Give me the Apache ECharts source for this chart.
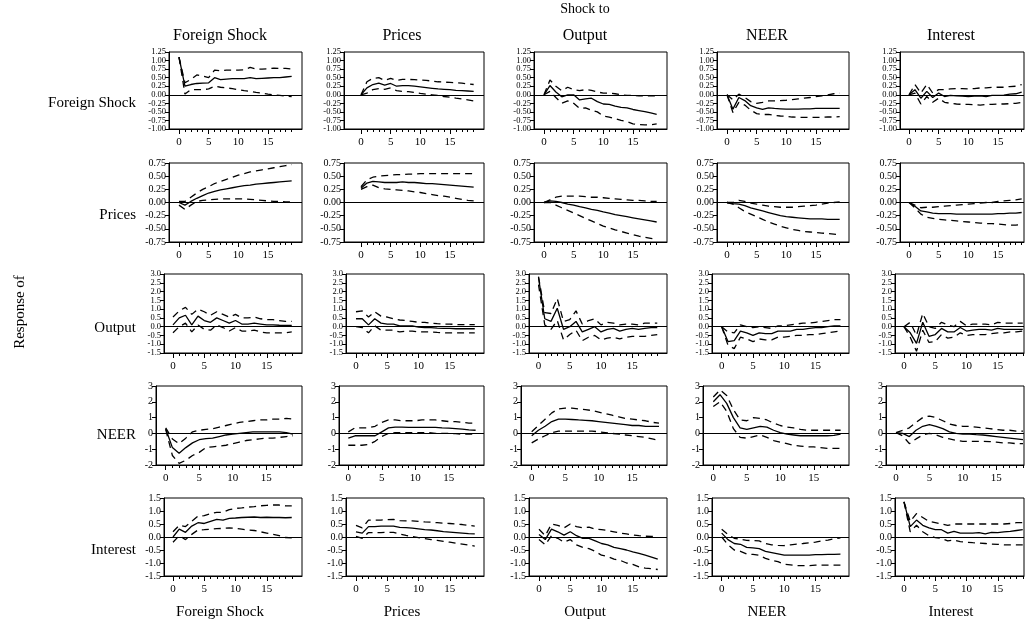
<!DOCTYPE html>
<html><head><meta charset="utf-8">
<script src="https://cdn.jsdelivr.net/npm/echarts@6/dist/echarts.min.js"></script>
<style>html,body{margin:0;padding:0;background:#fff}#c{width:1032px;height:626px}</style>
</head><body><div id="c"></div>
<script>
// ---- labels ----
const variables = ['Foreign Shock', 'Prices', 'Output', 'NEER', 'Interest'];
const periods = [0,1,2,3,4,5,6,7,8,9,10,11,12,13,14,15,16,17,18,19];
const xTickLabels = [0, 5, 10, 15];
// y axis scales per response row: [min, max, step, decimals]
const yScaleFS = [-1.0, 1.25, 0.25, 2];
const yScalePR = [-0.75, 0.75, 0.25, 2];
const yScaleOUT = [-1.5, 3.0, 0.5, 1];
const yScaleNEER = [-2, 3, 1, 0];
const yScaleINT = [-1.5, 1.5, 0.5, 1];

// ---- Response of Foreign Shock ----
const fs_fs_c = [1.10,0.25,0.30,0.33,0.34,0.35,0.50,0.44,0.46,0.47,0.47,0.47,0.50,0.47,0.48,0.49,0.50,0.50,0.52,0.54];
const fs_fs_u = [1.10,0.35,0.45,0.58,0.55,0.50,0.72,0.70,0.72,0.72,0.72,0.73,0.80,0.75,0.75,0.76,0.78,0.77,0.77,0.75];
const fs_fs_l = [1.10,0.02,0.15,0.15,0.15,0.17,0.25,0.22,0.20,0.18,0.15,0.12,0.10,0.07,0.05,0.02,0.00,-0.02,-0.04,-0.05];
const pr_fs_c = [0.00,0.20,0.30,0.34,0.28,0.33,0.25,0.27,0.27,0.25,0.23,0.21,0.19,0.17,0.16,0.15,0.13,0.12,0.11,0.10];
const pr_fs_u = [0.00,0.38,0.48,0.50,0.42,0.48,0.42,0.45,0.45,0.44,0.43,0.42,0.40,0.38,0.37,0.36,0.35,0.34,0.32,0.30];
const pr_fs_l = [0.00,0.05,0.15,0.18,0.16,0.20,0.12,0.10,0.09,0.07,0.04,0.02,0.00,-0.02,-0.05,-0.07,-0.10,-0.12,-0.15,-0.18];
const out_fs_c = [0.00,0.27,0.08,-0.06,0.00,0.00,-0.15,-0.12,-0.10,-0.20,-0.27,-0.28,-0.33,-0.37,-0.38,-0.43,-0.46,-0.49,-0.53,-0.57];
const out_fs_u = [0.00,0.43,0.25,0.12,0.22,0.15,0.12,0.15,0.13,0.08,0.05,0.05,0.03,0.00,-0.02,-0.02,-0.03,-0.03,-0.03,-0.03];
const out_fs_l = [0.00,0.10,-0.08,-0.25,-0.18,-0.25,-0.40,-0.38,-0.45,-0.50,-0.62,-0.65,-0.70,-0.75,-0.78,-0.85,-0.87,-0.88,-0.88,-0.85];
const neer_fs_c = [0.00,-0.42,-0.08,-0.17,-0.32,-0.38,-0.43,-0.38,-0.40,-0.41,-0.42,-0.42,-0.42,-0.41,-0.41,-0.40,-0.40,-0.40,-0.40,-0.40];
const neer_fs_u = [0.00,-0.15,0.02,-0.08,-0.20,-0.25,-0.22,-0.18,-0.18,-0.17,-0.16,-0.14,-0.12,-0.10,-0.08,-0.05,-0.03,0.00,0.03,0.05];
const neer_fs_l = [0.00,-0.52,-0.22,-0.30,-0.45,-0.55,-0.58,-0.57,-0.60,-0.62,-0.63,-0.65,-0.66,-0.66,-0.66,-0.66,-0.66,-0.65,-0.65,-0.64];
const int_fs_c = [0.00,0.15,-0.10,0.10,-0.08,0.05,-0.05,-0.02,-0.03,-0.04,-0.05,-0.04,-0.03,-0.05,-0.02,-0.02,-0.01,0.02,0.03,0.08];
const int_fs_u = [0.00,0.30,0.05,0.30,0.05,0.15,0.15,0.17,0.18,0.18,0.17,0.18,0.20,0.20,0.22,0.22,0.22,0.24,0.25,0.30];
const int_fs_l = [0.00,0.05,-0.27,-0.05,-0.22,-0.10,-0.22,-0.25,-0.27,-0.28,-0.28,-0.29,-0.30,-0.28,-0.28,-0.27,-0.27,-0.26,-0.25,-0.22];

// ---- Response of Prices ----
const fs_pr_c = [0.00,-0.05,0.02,0.08,0.13,0.18,0.21,0.24,0.26,0.28,0.30,0.32,0.33,0.35,0.36,0.37,0.38,0.39,0.40,0.41];
const fs_pr_u = [0.02,0.02,0.10,0.18,0.25,0.30,0.36,0.40,0.44,0.48,0.52,0.55,0.58,0.60,0.62,0.64,0.66,0.68,0.70,0.72];
const fs_pr_l = [-0.05,-0.13,-0.05,0.02,0.04,0.05,0.06,0.07,0.07,0.07,0.07,0.07,0.06,0.05,0.04,0.03,0.02,0.02,0.01,0.01];
const pr_pr_c = [0.27,0.37,0.40,0.39,0.38,0.38,0.38,0.39,0.38,0.38,0.37,0.36,0.36,0.35,0.34,0.33,0.32,0.31,0.30,0.29];
const pr_pr_u = [0.30,0.43,0.48,0.50,0.51,0.52,0.53,0.53,0.54,0.54,0.55,0.55,0.55,0.55,0.55,0.55,0.55,0.55,0.55,0.55];
const pr_pr_l = [0.25,0.30,0.33,0.28,0.26,0.25,0.24,0.23,0.22,0.20,0.19,0.17,0.15,0.13,0.12,0.10,0.08,0.06,0.04,0.03];
const out_pr_c = [0.00,0.03,0.02,0.00,-0.03,-0.05,-0.08,-0.10,-0.13,-0.15,-0.18,-0.20,-0.23,-0.25,-0.27,-0.29,-0.31,-0.33,-0.35,-0.37];
const out_pr_u = [0.00,0.05,0.10,0.12,0.12,0.12,0.12,0.11,0.10,0.10,0.09,0.08,0.07,0.06,0.05,0.04,0.04,0.03,0.02,0.02];
const out_pr_l = [0.00,0.00,-0.05,-0.10,-0.15,-0.20,-0.25,-0.30,-0.35,-0.40,-0.45,-0.48,-0.52,-0.55,-0.58,-0.61,-0.64,-0.66,-0.68,-0.70];
const neer_pr_c = [0.00,-0.02,-0.03,-0.06,-0.10,-0.13,-0.16,-0.19,-0.22,-0.25,-0.27,-0.28,-0.29,-0.30,-0.31,-0.31,-0.31,-0.32,-0.32,-0.32];
const neer_pr_u = [0.00,0.00,0.04,0.02,-0.01,-0.03,-0.05,-0.07,-0.08,-0.09,-0.09,-0.09,-0.08,-0.07,-0.06,-0.05,-0.03,-0.01,0.00,0.01];
const neer_pr_l = [0.00,-0.03,-0.10,-0.17,-0.22,-0.27,-0.32,-0.37,-0.41,-0.45,-0.48,-0.51,-0.53,-0.55,-0.56,-0.57,-0.58,-0.59,-0.60,-0.61];
const int_pr_c = [0.00,-0.07,-0.16,-0.18,-0.20,-0.21,-0.21,-0.21,-0.22,-0.22,-0.22,-0.22,-0.22,-0.22,-0.22,-0.21,-0.21,-0.20,-0.20,-0.19];
const int_pr_u = [0.00,-0.05,-0.10,-0.09,-0.09,-0.08,-0.07,-0.06,-0.05,-0.04,-0.03,-0.02,-0.01,0.00,0.00,0.02,0.03,0.04,0.05,0.07];
const int_pr_l = [0.00,-0.10,-0.22,-0.28,-0.30,-0.32,-0.33,-0.34,-0.35,-0.36,-0.37,-0.38,-0.39,-0.40,-0.40,-0.41,-0.42,-0.43,-0.43,-0.42];

// ---- Response of Output ----
const fs_out_c = [0.10,0.50,0.65,0.10,0.60,0.35,0.25,0.50,0.35,0.20,0.35,0.15,0.15,0.20,0.15,0.10,0.10,0.08,0.07,0.07];
const fs_out_u = [0.55,0.90,1.10,0.70,1.00,0.85,0.65,0.85,0.70,0.55,0.70,0.50,0.50,0.55,0.45,0.40,0.40,0.35,0.30,0.30];
const fs_out_l = [-0.35,0.00,0.20,-0.30,0.10,-0.15,-0.20,0.10,-0.05,-0.25,-0.05,-0.25,-0.25,-0.20,-0.30,-0.35,-0.35,-0.35,-0.35,-0.30];
const pr_out_c = [0.45,0.45,0.10,0.45,0.20,0.15,0.15,0.05,0.05,0.05,-0.03,-0.05,-0.05,-0.08,-0.10,-0.10,-0.12,-0.12,-0.12,-0.12];
const pr_out_u = [0.85,0.90,0.55,0.85,0.60,0.55,0.45,0.38,0.35,0.30,0.25,0.25,0.20,0.17,0.15,0.15,0.12,0.12,0.12,0.12];
const pr_out_l = [0.00,-0.05,-0.35,0.05,-0.20,-0.20,-0.20,-0.30,-0.25,-0.25,-0.30,-0.30,-0.30,-0.33,-0.35,-0.35,-0.35,-0.35,-0.35,-0.35];
const out_out_c = [2.80,0.45,0.30,1.05,-0.15,0.00,0.30,-0.30,-0.15,0.00,-0.30,-0.15,-0.10,-0.25,-0.15,-0.10,-0.15,-0.10,-0.05,-0.05];
const out_out_u = [2.85,0.80,0.75,1.60,0.30,0.40,0.90,0.15,0.35,0.45,0.10,0.25,0.20,0.10,0.15,0.15,0.10,0.20,0.20,0.20];
const out_out_l = [2.40,0.10,-0.15,0.35,-0.75,-0.45,-0.20,-0.80,-0.60,-0.50,-0.75,-0.65,-0.60,-0.70,-0.60,-0.55,-0.55,-0.55,-0.50,-0.45];
const neer_out_c = [0.00,-0.85,-0.80,-0.25,-0.35,-0.50,-0.35,-0.40,-0.40,-0.25,-0.25,-0.25,-0.15,-0.15,-0.10,-0.05,-0.05,0.00,0.05,0.05];
const neer_out_u = [0.00,-0.30,-0.35,0.10,0.00,-0.05,0.00,-0.05,-0.10,0.05,0.05,0.10,0.15,0.20,0.20,0.25,0.30,0.35,0.40,0.40];
const neer_out_l = [0.00,-1.05,-1.25,-0.60,-0.70,-0.85,-0.70,-0.75,-0.75,-0.60,-0.60,-0.55,-0.50,-0.50,-0.45,-0.45,-0.40,-0.35,-0.30,-0.25];
const int_out_c = [0.00,-0.35,-0.95,0.25,-0.55,-0.45,-0.10,-0.30,-0.30,-0.05,-0.25,-0.20,-0.15,-0.15,-0.20,-0.10,-0.15,-0.15,-0.15,-0.15];
const int_out_u = [0.00,0.25,-0.50,0.75,0.00,-0.10,0.25,0.10,0.00,0.30,0.05,0.15,0.15,0.15,0.10,0.25,0.20,0.20,0.20,0.20];
const int_out_l = [0.00,-0.60,-1.40,-0.20,-0.90,-0.85,-0.45,-0.65,-0.60,-0.35,-0.50,-0.45,-0.45,-0.45,-0.40,-0.35,-0.35,-0.30,-0.30,-0.25];

// ---- Response of NEER ----
const fs_neer_c = [0.30,-0.90,-1.25,-0.90,-0.60,-0.40,-0.33,-0.30,-0.20,-0.10,-0.05,0.00,0.05,0.10,0.10,0.10,0.10,0.10,0.05,-0.05];
const fs_neer_u = [0.35,-0.35,-0.65,-0.30,0.10,0.20,0.25,0.30,0.40,0.50,0.60,0.70,0.75,0.80,0.85,0.85,0.90,0.90,0.95,0.90];
const fs_neer_l = [0.25,-1.40,-1.90,-1.70,-1.40,-1.20,-0.90,-0.85,-0.80,-0.75,-0.65,-0.55,-0.45,-0.40,-0.35,-0.30,-0.30,-0.25,-0.20,-0.15];
const pr_neer_c = [-0.30,-0.15,-0.15,-0.15,-0.15,0.10,0.35,0.40,0.40,0.38,0.38,0.38,0.38,0.38,0.35,0.33,0.30,0.27,0.22,0.20];
const pr_neer_u = [0.10,0.35,0.35,0.35,0.45,0.70,0.85,0.85,0.80,0.80,0.80,0.85,0.85,0.85,0.80,0.75,0.75,0.70,0.65,0.65];
const pr_neer_l = [-0.75,-0.75,-0.75,-0.70,-0.50,-0.20,0.00,0.05,0.05,0.05,0.05,0.05,0.05,0.00,0.00,0.00,-0.02,-0.05,-0.05,-0.05];
const out_neer_c = [-0.15,0.20,0.45,0.75,0.90,0.90,0.88,0.85,0.83,0.80,0.75,0.70,0.65,0.60,0.55,0.50,0.50,0.45,0.45,0.45];
const out_neer_u = [0.10,0.50,0.90,1.30,1.55,1.60,1.60,1.55,1.50,1.45,1.35,1.25,1.15,1.05,0.95,0.90,0.85,0.80,0.70,0.65];
const out_neer_l = [-0.60,-0.35,-0.15,0.05,0.15,0.15,0.15,0.15,0.15,0.15,0.10,0.05,0.00,-0.05,-0.10,-0.15,-0.20,-0.25,-0.35,-0.45];
const neer_neer_c = [2.00,2.45,1.90,1.00,0.35,0.25,0.35,0.45,0.40,0.20,0.05,-0.05,-0.10,-0.15,-0.15,-0.15,-0.15,-0.15,-0.12,-0.05];
const neer_neer_u = [2.30,2.75,2.40,1.50,0.85,0.80,1.00,0.95,0.85,0.65,0.50,0.40,0.35,0.25,0.20,0.20,0.20,0.20,0.20,0.20];
const neer_neer_l = [1.70,2.00,1.40,0.30,-0.25,-0.30,-0.20,-0.10,-0.25,-0.45,-0.55,-0.65,-0.75,-0.80,-0.85,-0.85,-0.90,-0.95,-0.95,-0.95];
const int_neer_c = [0.05,0.00,-0.20,0.20,0.45,0.55,0.45,0.30,0.10,0.00,-0.05,-0.05,-0.08,-0.10,-0.15,-0.20,-0.25,-0.30,-0.35,-0.40];
const int_neer_u = [0.05,0.20,0.35,0.70,1.00,1.10,1.00,0.80,0.60,0.50,0.45,0.45,0.40,0.35,0.30,0.25,0.20,0.20,0.15,0.15];
const int_neer_l = [0.05,-0.15,-0.65,-0.35,-0.10,0.00,-0.10,-0.25,-0.35,-0.45,-0.50,-0.50,-0.50,-0.50,-0.52,-0.55,-0.60,-0.60,-0.65,-0.65];

// ---- Response of Interest ----
const fs_int_c = [0.00,0.30,0.18,0.42,0.55,0.52,0.60,0.68,0.65,0.72,0.73,0.75,0.76,0.77,0.75,0.76,0.75,0.75,0.74,0.75];
const fs_int_u = [0.20,0.45,0.40,0.60,0.80,0.82,0.90,0.95,0.95,1.05,1.10,1.12,1.15,1.17,1.20,1.22,1.23,1.23,1.20,1.20];
const fs_int_l = [-0.20,0.05,-0.10,0.10,0.27,0.28,0.30,0.32,0.33,0.35,0.33,0.30,0.27,0.25,0.20,0.15,0.10,0.05,-0.02,-0.03];
const pr_int_c = [0.20,0.15,0.40,0.40,0.42,0.42,0.42,0.37,0.36,0.34,0.31,0.28,0.27,0.24,0.21,0.19,0.17,0.15,0.13,0.12];
const pr_int_u = [0.45,0.35,0.65,0.65,0.65,0.67,0.68,0.63,0.62,0.62,0.60,0.58,0.57,0.55,0.53,0.52,0.50,0.48,0.45,0.42];
const pr_int_l = [0.02,-0.05,0.17,0.17,0.17,0.18,0.18,0.12,0.06,0.02,-0.02,-0.06,-0.10,-0.13,-0.17,-0.20,-0.24,-0.27,-0.31,-0.35];
const out_int_c = [0.10,-0.10,0.30,0.20,0.07,0.20,0.05,-0.05,-0.05,-0.15,-0.25,-0.30,-0.40,-0.45,-0.50,-0.57,-0.63,-0.70,-0.77,-0.85];
const out_int_u = [0.30,0.05,0.50,0.45,0.35,0.50,0.40,0.35,0.38,0.30,0.28,0.25,0.20,0.15,0.12,0.08,0.05,0.03,0.02,0.02];
const out_int_l = [-0.10,-0.30,0.05,-0.05,-0.20,-0.10,-0.30,-0.40,-0.45,-0.55,-0.70,-0.75,-0.85,-0.90,-1.00,-1.05,-1.15,-1.20,-1.22,-1.25];
const neer_int_c = [0.15,-0.10,-0.25,-0.28,-0.40,-0.42,-0.45,-0.55,-0.60,-0.65,-0.70,-0.70,-0.70,-0.70,-0.70,-0.68,-0.68,-0.67,-0.67,-0.66];
const neer_int_u = [0.30,0.10,-0.05,-0.08,-0.13,-0.14,-0.15,-0.25,-0.30,-0.32,-0.33,-0.30,-0.27,-0.25,-0.22,-0.20,-0.15,-0.12,-0.07,-0.03];
const neer_int_l = [0.00,-0.30,-0.50,-0.55,-0.65,-0.67,-0.70,-0.82,-0.90,-0.95,-1.05,-1.07,-1.10,-1.10,-1.10,-1.08,-1.08,-1.08,-1.08,-1.08];
const int_int_c = [1.35,0.40,0.65,0.45,0.35,0.28,0.28,0.15,0.22,0.15,0.15,0.15,0.17,0.12,0.18,0.17,0.20,0.22,0.25,0.28];
const int_int_u = [1.35,0.60,0.90,0.75,0.60,0.55,0.50,0.45,0.50,0.50,0.50,0.50,0.50,0.50,0.50,0.50,0.50,0.52,0.55,0.55];
const int_int_l = [1.35,0.20,0.45,0.20,0.05,-0.02,-0.05,-0.15,-0.12,-0.18,-0.20,-0.22,-0.23,-0.25,-0.27,-0.28,-0.30,-0.30,-0.30,-0.30];

// ---- assemble panels (rows = response of, cols = shock to) ----
const panelRows = [
  [[fs_fs_c,fs_fs_u,fs_fs_l],[pr_fs_c,pr_fs_u,pr_fs_l],[out_fs_c,out_fs_u,out_fs_l],[neer_fs_c,neer_fs_u,neer_fs_l],[int_fs_c,int_fs_u,int_fs_l]],
  [[fs_pr_c,fs_pr_u,fs_pr_l],[pr_pr_c,pr_pr_u,pr_pr_l],[out_pr_c,out_pr_u,out_pr_l],[neer_pr_c,neer_pr_u,neer_pr_l],[int_pr_c,int_pr_u,int_pr_l]],
  [[fs_out_c,fs_out_u,fs_out_l],[pr_out_c,pr_out_u,pr_out_l],[out_out_c,out_out_u,out_out_l],[neer_out_c,neer_out_u,neer_out_l],[int_out_c,int_out_u,int_out_l]],
  [[fs_neer_c,fs_neer_u,fs_neer_l],[pr_neer_c,pr_neer_u,pr_neer_l],[out_neer_c,out_neer_u,out_neer_l],[neer_neer_c,neer_neer_u,neer_neer_l],[int_neer_c,int_neer_u,int_neer_l]],
  [[fs_int_c,fs_int_u,fs_int_l],[pr_int_c,pr_int_u,pr_int_l],[out_int_c,out_int_u,out_int_l],[neer_int_c,neer_int_u,neer_int_l],[int_int_c,int_int_u,int_int_l]]
];
const yScales = [yScaleFS, yScalePR, yScaleOUT, yScaleNEER, yScaleINT];

// ---- layout (pixels) ----
const FONT = "'Liberation Serif','Times New Roman',serif";
const frameLeft = [[169,344,534,717,900],[169,344,534,717,900],[164,346,529,712,895],[156,339,521,703,886],[164,346,529,712,895]];
const zeroX = [[179,361,544,727,909],[179,361,544,727,909],[173,356,538.5,721.7,904],[165.7,348.3,531.7,713.3,896],[173,356,539,721.7,904]];
const unitX = [5.93,5.93,6.25,6.7,6.25];
const frameRight = [302,484,667,849,1024];
const frameTop = [52,163,274,386,498];
const frameBottom = [129,242,353,465,576];
const yLabelSize = [8.5,10,8.5,10,10];
const colCenter = [220,402,585,767,951];
const rowLabelY = [103,215,328,435,550];

const grids=[], xAxes=[], yAxes=[], series=[];
let k = 0;
for (let r=0;r<5;r++){
  for (let c=0;c<5;c++){
    const L=frameLeft[r][c], R=frameRight[c], P0=zeroX[r][c], u=unitX[r];
    const xmin=-(P0-L)/u, xmax=Math.max((R-P0)/u,19.15);
    const ys=yScales[r];
    const yTickVals=[];
    for (let v=ys[0]; v<=ys[1]+1e-9; v+=ys[2]) yTickVals.push(Math.round(v*100)/100);
    const yEven = yTickVals.filter((v,i)=>i%2===0);
    const yOdd = yTickVals.filter((v,i)=>i%2===1);
    const lbl = (vals)=>({show:true, customValues:vals, showMinLabel:true, showMaxLabel:true, hideOverlap:false,
        color:'#000', fontFamily:FONT, fontSize:yLabelSize[r], margin:3,
        formatter:(v)=>Number(v).toFixed(ys[3])});
    grids.push({left:L, top:frameTop[r], width:R-L, height:frameBottom[r]-frameTop[r],
      show:true, borderColor:'#000', borderWidth:1, backgroundColor:'transparent', containLabel:false});
    xAxes.push({gridIndex:k, type:'value', position:'bottom', min:xmin, max:xmax,
      axisLine:{show:true, onZero:false, lineStyle:{color:'#000', width:1}},
      axisTick:{show:true, customValues:periods, length:3, lineStyle:{color:'#000'}},
      axisLabel:{show:false}, splitLine:{show:false}});
    xAxes.push({gridIndex:k, type:'value', position:'bottom', min:xmin, max:xmax,
      axisLine:{show:false, onZero:false},
      axisTick:{show:true, customValues:xTickLabels, length:5, lineStyle:{color:'#000'}},
      axisLabel:{show:true, customValues:xTickLabels, color:'#000', fontFamily:FONT, fontSize:11, margin:8},
      splitLine:{show:false}});
    yAxes.push({gridIndex:k, type:'value', position:'left', min:ys[0], max:ys[1], interval:ys[2],
      axisLine:{show:true, onZero:false, lineStyle:{color:'#000', width:1}},
      axisTick:{show:true, length:4, customValues:yTickVals, lineStyle:{color:'#000'}},
      axisLabel:lbl(yEven), splitLine:{show:false}});
    yAxes.push({gridIndex:k, type:'value', position:'left', offset:0, min:ys[0], max:ys[1], interval:ys[2],
      axisLine:{show:false, onZero:false},
      axisTick:{show:true, length:4, customValues:yOdd, lineStyle:{color:'#000'}},
      axisLabel:lbl(yOdd), splitLine:{show:false}});
    const trio = panelRows[r][c];
    const mk = (arr)=>periods.map((t,i)=>[t,arr[i]]);
    series.push({type:'line', xAxisIndex:2*k, yAxisIndex:2*k, data:mk(trio[0]), symbol:'none', silent:true,
      lineStyle:{color:'#000', width:1.3, type:'solid'},
      markLine:{silent:true, symbol:'none', label:{show:false}, animation:false,
        lineStyle:{color:'#000', width:1, type:'solid'}, data:[{yAxis:0}]}});
    series.push({type:'line', xAxisIndex:2*k, yAxisIndex:2*k, data:mk(trio[1]), symbol:'none', silent:true,
      lineStyle:{color:'#000', width:1.3, type:[7,5]}});
    series.push({type:'line', xAxisIndex:2*k, yAxisIndex:2*k, data:mk(trio[2]), symbol:'none', silent:true,
      lineStyle:{color:'#000', width:1.3, type:[7,5]}});
    k++;
  }
}

const graphics = [];
graphics.push({type:'text', x:585, y:9, style:{text:'Shock to', font:'14px '+FONT, fill:'#000', textAlign:'center', textVerticalAlign:'middle'}});
graphics.push({type:'text', x:20, y:312, rotation:Math.PI/2, style:{text:'Response of', font:'15px '+FONT, fill:'#000', textAlign:'center', textVerticalAlign:'middle'}});
for (let c=0;c<5;c++){
  graphics.push({type:'text', x:colCenter[c], y:36, style:{text:variables[c], font:'16px '+FONT, fill:'#000', textAlign:'center', textVerticalAlign:'middle'}});
  graphics.push({type:'text', x:colCenter[c], y:612, style:{text:variables[c], font:'15px '+FONT, fill:'#000', textAlign:'center', textVerticalAlign:'middle'}});
}
for (let r=0;r<5;r++){
  graphics.push({type:'text', x:136, y:rowLabelY[r], style:{text:variables[r], font:'15px '+FONT, fill:'#000', textAlign:'right', textVerticalAlign:'middle'}});
}

const chart = echarts.init(document.getElementById('c'), null, {renderer:'canvas'});
chart.setOption({animation:false, backgroundColor:'#fff', grid:grids, xAxis:xAxes, yAxis:yAxes, series:series, graphic:graphics});
</script></body></html>
